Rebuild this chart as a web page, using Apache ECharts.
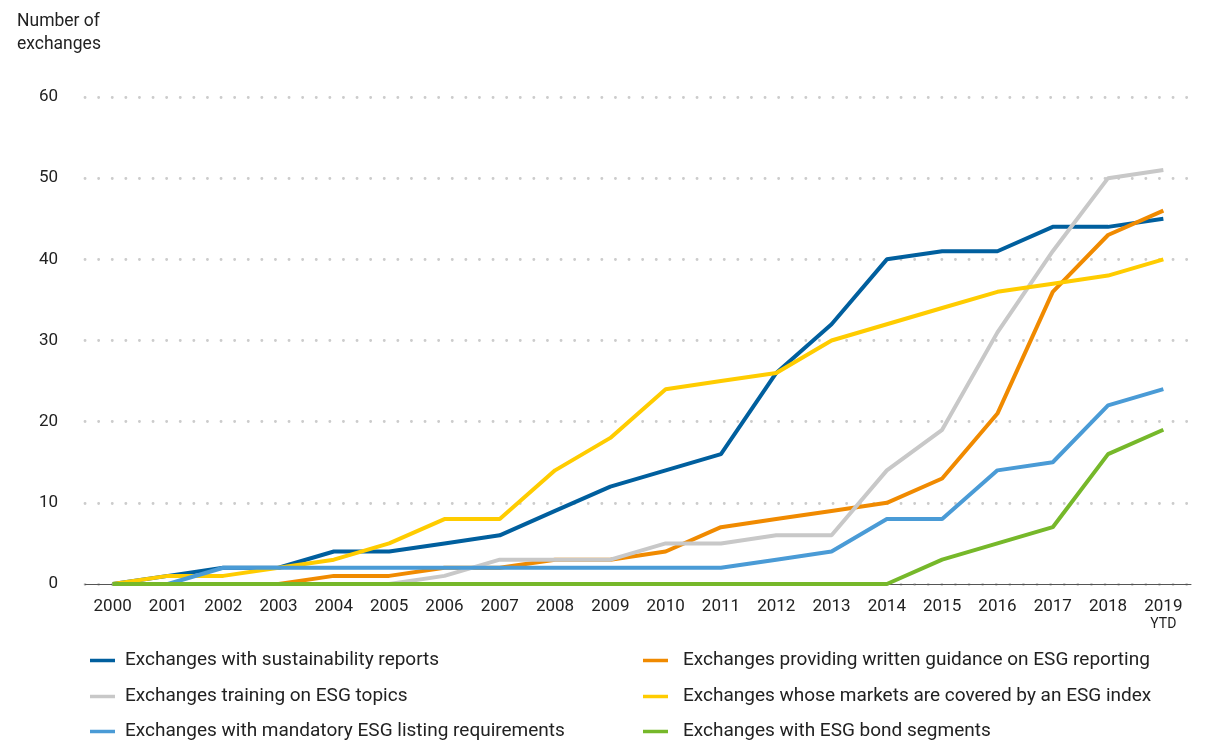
<!DOCTYPE html>
<html><head><meta charset="utf-8">
<script src="https://cdn.jsdelivr.net/npm/echarts@6/dist/echarts.min.js"></script>
<style>html,body{margin:0;padding:0;background:#fff}#c{width:1217px;height:742px}</style>
</head><body><div id="c"></div>
<script>
const years = ['2000','2001','2002','2003','2004','2005','2006','2007','2008','2009','2010','2011','2012','2013','2014','2015','2016','2017','2018','2019\nYTD'];
const yTicks = [0,10,20,30,40,50,60];
const sustainabilityReports = [0,1,2,2,4,4,5,6,9,12,14,16,26,32,40,41,41,44,44,45];
const writtenGuidance = [0,0,0,0,1,1,2,2,3,3,4,7,8,9,10,13,21,36,43,46];
const trainingESG = [0,0,0,0,0,0,1,3,3,3,5,5,6,6,14,19,31,41,50,51];
const esgIndex = [0,1,1,2,3,5,8,8,14,18,24,25,26,30,32,34,36,37,38,40];
const mandatoryListing = [0,0,2,2,2,2,2,2,2,2,2,2,3,4,8,8,14,15,22,24];
const bondSegments = [0,0,0,0,0,0,0,0,0,0,0,0,0,0,0,3,5,7,16,19];
const names = ['Exchanges with sustainability reports','Exchanges providing written guidance on ESG reporting','Exchanges training on ESG topics','Exchanges whose markets are covered by an ESG index','Exchanges with mandatory ESG listing requirements','Exchanges with ESG bond segments'];
const colors = ['#005f9e','#f08a00','#c8c8c8','#ffcc00','#4a9bd6','#76b82a'];
const datas = [sustainabilityReports, writtenGuidance, trainingESG, esgIndex, mandatoryListing, bondSegments];
const FONT = '"Roboto", sans-serif';
const legendPos = [[90,651],[643,651],[90,687],[643,687],[90,722],[643,722]];
const chart = echarts.init(document.getElementById('c'), null, {renderer:'canvas'});
chart.setOption({
  animation:false,
  textStyle:{fontFamily:FONT},
  title:{text:'Number of\nexchanges', left:17, top:10, padding:0, textStyle:{fontFamily:FONT, fontSize:17.5, fontWeight:'normal', color:'#222', lineHeight:23}},
  grid:{left:85, right:26, top:97, bottom:158, containLabel:false},
  legend: names.map((n,i)=>({left:legendPos[i][0], top:legendPos[i][1], padding:0, itemWidth:25, itemHeight:3.5, icon:'rect',
     data:[n], textStyle:{fontFamily:FONT, fontSize:19, color:'#222', padding:[0,0,0,(i%2===0)?5:10]}})),
  xAxis:{type:'category', data:years, boundaryGap:true,
    axisLine:{lineStyle:{color:'#555', width:1}}, axisTick:{show:false},
    axisLabel:{color:'#222', fontSize:17, margin:14, lineHeight:18, interval:0,
      formatter:function(v){ const p=v.split('\n'); return p.length>1 ? p[0]+'\n{s|'+p[1]+'}' : v; },
      rich:{s:{fontSize:14, color:'#222', lineHeight:16}}}
  },
  yAxis:{type:'value', min:0, max:60, interval:10,
    axisLine:{show:false}, axisTick:{show:false},
    axisLabel:{color:'#222', fontSize:17, margin:27},
    splitLine:{show:true, lineStyle:{color:'#cccccc', width:2.8, type:[0.1,13.5], cap:'round'}}
  },
  series: datas.map((d,i)=>({name:names[i], type:'line', data:d, symbol:'none', color:colors[i],
    lineStyle:{width:4, color:colors[i]}, z:2+i}))
});
</script></body></html>
